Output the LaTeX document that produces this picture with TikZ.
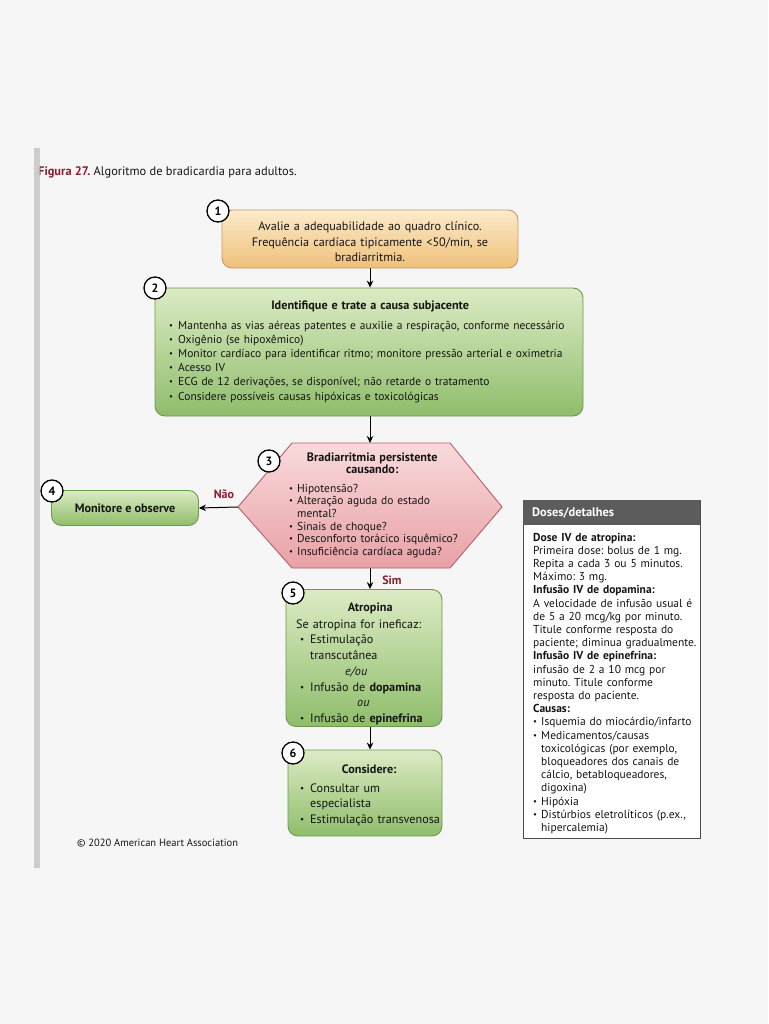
\documentclass[tikz,border=0pt]{standalone}
\usepackage{fontspec}
\usepackage{graphicx}
\setmainfont{PT Sans}
\usetikzlibrary{arrows.meta}
\frenchspacing
\definecolor{ink}{HTML}{151515}
\definecolor{oTop}{HTML}{FCEBCB}
\definecolor{oBot}{HTML}{EFC07A}
\definecolor{oDraw}{HTML}{C99A5E}
\definecolor{gTop}{HTML}{DCEBC4}
\definecolor{gBot}{HTML}{8FBD6B}
\definecolor{gDraw}{HTML}{6C9A4C}
\definecolor{pTop}{HTML}{F9DADB}
\definecolor{pBot}{HTML}{E8A1A6}
\definecolor{pDraw}{HTML}{B3606B}
\definecolor{hdr}{HTML}{5C5C5C}
\definecolor{dred}{HTML}{8C1D2F}
\definecolor{bgc}{HTML}{F6F6F6}
\newcommand{\fsz}[2]{\fontsize{#1}{#2}\selectfont}
\newcommand{\bdot}{\raisebox{0.08em}{\scalebox{0.75}{•}}}
\newcommand{\bli}[1]{\makebox[#1][l]{\bdot}}
\tikzset{
  box/.style={rounded corners=10pt, line width=0.9pt},
  obox/.style={box, top color=oTop, bottom color=oBot, draw=oDraw},
  gbox/.style={box, top color=gTop, bottom color=gBot, draw=gDraw},
  txt/.style={inner sep=0pt, align=left, text=ink},
  num/.style={circle, draw=black, line width=1.3pt, fill=white, minimum size=22pt, inner sep=0pt, font=\bfseries\fsz{12}{12}, text=black},
  arr/.style={-{Stealth[length=7pt,width=6.5pt]}, line width=1pt, draw=black},
  lbl/.style={inner sep=0pt, font=\bfseries\fsz{12}{12}, text=dred},
}
\begin{document}
\begin{tikzpicture}[x=1pt,y=-1pt]
\useasboundingbox (0,0) rectangle (768,1024);
\fill[bgc] (0,0) rectangle (768,1024);

% title
\node[txt, anchor=base west, font=\fsz{12.4}{14}] (title) at (38,176) {{\color{dred}\bfseries Figura 27.} Algoritmo de bradicardia para adultos.};
\fill[gray!45, opacity=0.85] (34,148) rectangle (40,868);

% box 1
\node[obox, minimum width=296pt, minimum height=58pt] (n1) at (370,239) {};
\node[txt, align=center, text width=300pt, anchor=base, font=\fsz{12.2}{15}] (t1) at (370,231)
 {Avalie a adequabilidade ao quadro clínico.\\Frequência cardíaca tipicamente <50/min, se\\bradiarritmia.};
\node[num] (c1) at (218,211) {1};

% box 2
\node[gbox, minimum width=428pt, minimum height=128pt] (n2) at (369,352) {};
\node[txt, text width=420pt, anchor=base west, font=\fsz{11.5}{14.2}] (t2) at (169,309)
 {\makebox[402pt]{\bfseries\fsz{12.2}{14.2}Identifique e trate a causa subjacente}\\[5.8pt]
  \bli{9pt}Mantenha as vias aéreas patentes e auxilie a respiração, conforme necessário\\
  \bli{9pt}Oxigênio (se hipoxêmico)\\
  \bli{9pt}Monitor cardíaco para identificar ritmo; monitore pressão arterial e oximetria\\
  \bli{9pt}Acesso IV\\
  \bli{9pt}ECG de 12 derivações, se disponível; não retarde o tratamento\\
  \bli{9pt}Considere possíveis causas hipóxicas e toxicológicas};
\node[num] (c2) at (155,288) {2};

% hexagon 3
\coordinate (hL) at (238,507);
\coordinate (hT) at (370,443);
\coordinate (hB) at (370,568);
\path[top color=pTop, bottom color=pBot, draw=pDraw, line width=0.9pt]
  (hL) -- (292,443) -- (450,443) -- (502,507) -- (450,568) -- (292,568) -- cycle;
\node[txt, text width=200pt, anchor=base west, font=\fsz{11.5}{12.6}] (t3) at (288,461)
 {\makebox[168pt]{\bfseries\fsz{12.2}{12.6}Bradiarritmia persistente}\\
  \makebox[168pt]{\bfseries\fsz{12.2}{12.6}causando:}\\[6pt]
  \hspace*{1pt}\bli{8pt}Hipotensão?\\
  \hspace*{1pt}\bli{8pt}Alteração aguda do estado\\
  \hspace*{9pt}mental?\\
  \hspace*{1pt}\bli{8pt}Sinais de choque?\\
  \hspace*{1pt}\bli{8pt}Desconforto torácico isquêmico?\\
  \hspace*{1pt}\bli{8pt}Insuficiência cardíaca aguda?};
\node[num] (c3) at (269,461) {3};

% box 4
\node[gbox, minimum width=147pt, minimum height=35pt, font=\bfseries\fsz{12.2}{14}, text=ink] (n4) at (125,508) {Monitore e observe};
\node[num] (c4) at (52,491) {4};

% box 5
\node[gbox, minimum width=156pt, minimum height=137pt] (n5) at (364,658) {};
\node[txt, text width=160pt, anchor=base west, font=\fsz{12.2}{15.7}] (t5) at (296,611)
 {\makebox[148pt]{\bfseries Atropina}\\[1.5pt]
  Se atropina for ineficaz:\\
  \hspace*{4pt}\bli{10pt}Estimulação\\
  \hspace*{14pt}transcutânea\\
  \hspace*{49pt}\textit{e/ou}\\
  \hspace*{4pt}\bli{10pt}Infusão de \textbf{dopamina}\\
  \hspace*{61pt}\textit{ou}\\
  \hspace*{4pt}\bli{10pt}Infusão de \textbf{epinefrina}};
\node[num] (c5) at (293,593) {5};

% box 6
\node[gbox, minimum width=154pt, minimum height=86pt] (n6) at (365,793) {};
\node[txt, text width=160pt, anchor=base west, font=\fsz{12.2}{15.5}] (t6) at (296,773)
 {\makebox[146pt]{\bfseries Considere:}\\[3.5pt]
  \hspace*{4pt}\bli{10pt}Consultar um\\
  \hspace*{14pt}especialista\\
  \hspace*{4pt}\bli{10pt}Estimulação transvenosa};
\node[num] (c6) at (293,753) {6};

% connectors
\draw[arr] (n1.south -| hT) -- (n2.north -| hT);
\draw[arr] (n2.south -| hT) -- (hT);
\draw[arr] (hL) -- (n4.east);
\draw[arr] (hB) -- (n5.north -| hB);
\draw[arr] (n5.south -| hB) -- (n6.north -| hB);
\node[lbl] (nao) at (224,494) {Não};
\node[lbl] (sim) at (392,580) {Sim};

% doses box
\node[draw=black!70, line width=0.8pt, fill=white, minimum width=177pt, minimum height=338pt, anchor=north west, inner sep=0pt] (dbox) at (523,500) {};
\node[fill=hdr, minimum width=177pt, minimum height=25pt, anchor=north west, inner sep=0pt] (dhead) at (523,500) {};
\node[inner sep=0pt, anchor=base west, text=white, font=\bfseries\fsz{12.4}{13}] (dtitle) at (532,516) {Doses/detalhes};
\node[txt, text width=175pt, anchor=base west, font=\fsz{11.5}{13.2}] (dtext) at (533,541)
 {\textbf{Dose IV de atropina:}\\
  Primeira dose: bolus de 1 mg.\\
  Repita a cada 3 ou 5 minutos.\\
  Máximo: 3 mg.\\
  \textbf{Infusão IV de dopamina:}\\
  A velocidade de infusão usual é\\
  de 5 a 20 mcg/kg por minuto.\\
  Titule conforme resposta do\\
  paciente; diminua gradualmente.\\
  \textbf{Infusão IV de epinefrina:}\\
  infusão de 2 a 10 mcg por\\
  minuto. Titule conforme\\
  resposta do paciente.\\
  \textbf{Causas:}\\
  \bli{8pt}Isquemia do miocárdio/infarto\\
  \bli{8pt}Medicamentos/causas\\
  \hspace*{8pt}toxicológicas (por exemplo,\\
  \hspace*{8pt}bloqueadores dos canais de\\
  \hspace*{8pt}cálcio, betabloqueadores,\\
  \hspace*{8pt}digoxina)\\
  \bli{8pt}Hipóxia\\
  \bli{8pt}Distúrbios eletrolíticos (p.ex.,\\
  \hspace*{8pt}hipercalemia)};

% copyright
\node[txt, anchor=base west, font=\fsz{10.5}{12}] (copy) at (77,846) {© 2020 American Heart Association};
\end{tikzpicture}
\end{document}
